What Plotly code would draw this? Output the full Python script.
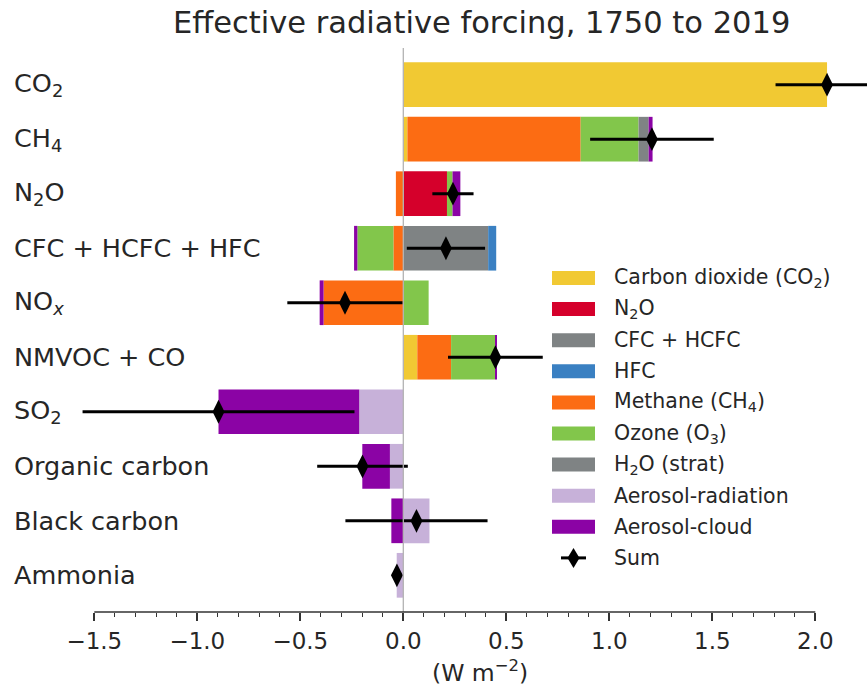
import plotly.graph_objects as go

categories = ["CO<sub>2</sub>", "CH<sub>4</sub>", "N<sub>2</sub>O", "CFC + HCFC + HFC",
              "NO<sub><i>x</i></sub>", "NMVOC + CO", "SO<sub>2</sub>", "Organic carbon",
              "Black carbon", "Ammonia"]

co2 = [2.057, 0.02, 0, 0, 0, 0.068, 0, 0, 0, 0]
n2o = [0, 0, 0.212, 0, 0, 0, 0, 0, 0, 0]
cfc_hcfc = [0, 0, 0, 0.412, 0, 0, 0, 0, 0, 0]
hfc = [0, 0, 0, 0.039, 0, 0, 0, 0, 0, 0]
methane = [0, 0.841, -0.036, -0.048, -0.387, 0.164, 0, 0, 0, 0]
ozone = [0, 0.281, 0.027, -0.175, 0.123, 0.214, 0, 0, 0, 0]
h2o_strat = [0, 0.049, 0, 0, 0, 0, 0, 0, 0, 0]
aer_rad = [0, 0, 0, 0, 0, 0, -0.214, -0.065, 0.127, -0.032]
aer_cloud = [0, 0.019, 0.038, -0.016, -0.019, 0.005, -0.683, -0.134, -0.058, 0]

sum_vals = [2.057, 1.207, 0.241, 0.207, -0.283, 0.447, -0.897, -0.198, 0.064, -0.031]
sum_err = [0.25, 0.30, 0.10, 0.19, 0.28, 0.23, 0.66, 0.22, 0.345, 0.0]

x_ticks = [-1.5, -1.0, -0.5, 0.0, 0.5, 1.0, 1.5, 2.0]

series = [
    ("Carbon dioxide (CO<sub>2</sub>)", co2, "#f1c933"),
    ("N<sub>2</sub>O", n2o, "#d5002b"),
    ("CFC + HCFC", cfc_hcfc, "#7f8384"),
    ("HFC", hfc, "#3a80c2"),
    ("Methane (CH<sub>4</sub>)", methane, "#fc6c13"),
    ("Ozone (O<sub>3</sub>)", ozone, "#82c64b"),
    ("H<sub>2</sub>O (strat)", h2o_strat, "#7f8384"),
    ("Aerosol-radiation", aer_rad, "#c7b1d9"),
    ("Aerosol-cloud", aer_cloud, "#8b03a5"),
]

W, H = 867, 691
TOP, BOT = 48, 612
ZERO_PX, UNIT_PX = 403.3, 206.0
YPAD = 0.673
FONT = "DejaVu Sans"
TXT = "#262626"

ypos = list(range(len(categories)))

fig = go.Figure()
for name, vals, col in series:
    fig.add_trace(go.Bar(y=ypos, x=vals, orientation="h", name=name,
                         marker=dict(color=col, line=dict(width=0)),
                         width=0.82, showlegend=False))

fig.add_trace(go.Scatter(
    x=sum_vals, y=ypos, mode="markers", name="Sum",
    marker=dict(symbol="diamond-tall", size=17, color="black"),
    error_x=dict(type="data", array=sum_err, color="black", thickness=3, width=0),
    showlegend=False, cliponaxis=False))

def px2x(px):
    return px / W

def py2y(py):
    return (BOT - py) / (BOT - TOP)

shapes = []
# zero line
shapes.append(dict(type="line", xref="x", yref="paper", x0=0, x1=0, y0=0, y1=1,
                   line=dict(color="#b3b3b3", width=1.3), layer="above"))
# bottom spine trimmed to tick range
shapes.append(dict(type="line", xref="x", yref="paper", x0=x_ticks[0], x1=x_ticks[-1],
                   y0=0, y1=0, line=dict(color="#333333", width=1.5)))

annotations = []
for i, c in enumerate(categories):
    annotations.append(dict(x=px2x(12), y=i, xref="paper", yref="y", text=c,
                            xanchor="left", yanchor="middle", showarrow=False,
                            font=dict(family=FONT, size=25.5, color=TXT)))

# custom legend
leg_y0 = 278
leg_dy = 31.1
for k, (name, vals, col) in enumerate(series):
    cy = leg_y0 + k * leg_dy
    shapes.append(dict(type="rect", xref="paper", yref="paper",
                       x0=px2x(552), x1=px2x(595), y0=py2y(cy + 7), y1=py2y(cy - 7),
                       fillcolor=col, line=dict(width=0)))
    annotations.append(dict(x=px2x(612), y=py2y(cy), xref="paper", yref="paper",
                            text=name, xanchor="left", yanchor="middle", showarrow=False,
                            font=dict(family=FONT, size=20.5, color=TXT)))
cy = leg_y0 + len(series) * leg_dy
shapes.append(dict(type="line", xref="paper", yref="paper",
                   x0=px2x(561), x1=px2x(586), y0=py2y(cy), y1=py2y(cy),
                   line=dict(color="black", width=3)))
dx, dyd = 6 / W, 10 / (BOT - TOP)
xc, yc = px2x(573.5), py2y(cy)
shapes.append(dict(type="path", xref="paper", yref="paper",
                   path=f"M {xc-dx} {yc} L {xc} {yc+dyd} L {xc+dx} {yc} L {xc} {yc-dyd} Z",
                   fillcolor="black", line=dict(width=0)))
annotations.append(dict(x=px2x(612), y=py2y(cy), xref="paper", yref="paper",
                        text="Sum", xanchor="left", yanchor="middle", showarrow=False,
                        font=dict(family=FONT, size=20.5, color=TXT)))

# axis title
annotations.append(dict(x=px2x(480), y=py2y(671), xref="paper", yref="paper",
                        text="(W m<sup>−2</sup>)", xanchor="center", yanchor="middle",
                        showarrow=False, font=dict(family=FONT, size=23.5, color=TXT)))
# title
annotations.append(dict(x=px2x(481), y=py2y(23), xref="paper", yref="paper",
                        text="Effective radiative forcing, 1750 to 2019",
                        xanchor="center", yanchor="middle", showarrow=False,
                        font=dict(family=FONT, size=30.5, color=TXT)))

minor_vals = [round(-1.5 + 0.1 * i, 1) for i in range(36)]

fig.update_layout(
    width=W, height=H,
    margin=dict(l=0, r=0, t=TOP, b=H - BOT, pad=0),
    barmode="relative", bargap=0.18,
    plot_bgcolor="white", paper_bgcolor="white",
    font=dict(family=FONT, color=TXT),
    shapes=shapes, annotations=annotations,
    xaxis=dict(range=[-ZERO_PX / UNIT_PX, (W - ZERO_PX) / UNIT_PX], showgrid=False,
               zeroline=False, showline=False, tickmode="array", tickvals=x_ticks,
               tickformat=".1f", ticks="outside", ticklen=8, tickwidth=1.5,
               tickcolor="#333333", tickfont=dict(family=FONT, size=23, color=TXT),
               minor=dict(tickmode="array", tickvals=minor_vals, ticks="outside",
                          ticklen=4, tickwidth=1.2, tickcolor="#333333", showgrid=False)),
    yaxis=dict(range=[len(categories) - 1 + YPAD, -YPAD], showgrid=False, zeroline=False,
               showline=False, showticklabels=False, ticks=""),
)

fig.write_html("out.html", config={"displayModeBar": False},
               post_script="document.body.style.margin='0px';")
